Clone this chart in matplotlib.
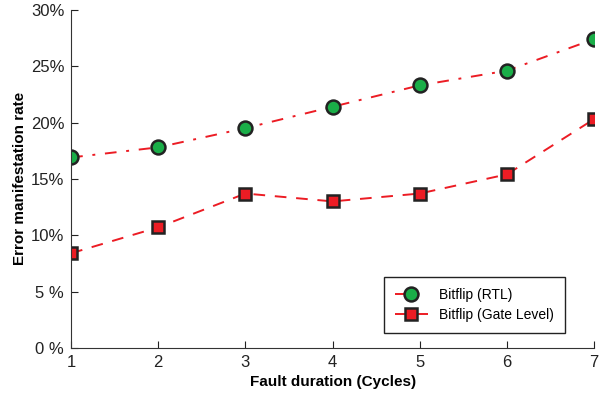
import matplotlib.pyplot as plt

# Fault duration in cycles
cycles = [1, 2, 3, 4, 5, 6, 7]

# Error manifestation rate (%)
rtl_rate = [16.9, 17.8, 19.5, 21.4, 23.3, 24.6, 27.4]
gate_rate = [8.4, 10.7, 13.7, 13.0, 13.7, 15.4, 20.3]

y_ticks = [0, 5, 10, 15, 20, 25, 30]
y_tick_labels = ['0 %', '5 %', '10%', '15%', '20%', '25%', '30%']

plt.rcParams['font.family'] = ['Liberation Sans', 'DejaVu Sans']

fig = plt.figure(figsize=(6.08, 3.94), dpi=100)
ax = fig.add_axes([0.117, 0.117, 0.86, 0.858])

line_red = '#ec1c24'

ax.plot(cycles, rtl_rate, color=line_red, linestyle=(0, (6, 5, 1.5, 5)), linewidth=1.4,
        marker='o', markersize=10, markerfacecolor='#1aae48', markeredgecolor='#222222',
        markeredgewidth=1.8, label='Bitflip (RTL)')
ax.plot(cycles, gate_rate, color=line_red, linestyle=(0, (6, 5)), linewidth=1.4,
        marker='s', markersize=9, markerfacecolor='#ec1c24', markeredgecolor='#222222',
        markeredgewidth=1.8, label='Bitflip (Gate Level)')

ax.set_xlim(1, 7)
ax.set_ylim(0, 30)
ax.set_xticks(cycles)
ax.set_yticks(y_ticks)
ax.set_yticklabels(y_tick_labels)

ax.spines['top'].set_visible(False)
ax.spines['right'].set_visible(False)
ax.spines['left'].set_color('#333333')
ax.spines['bottom'].set_color('#333333')
ax.tick_params(direction='in', length=5, labelsize=12, colors='#222222', pad=5)

ax.set_xlabel('Fault duration (Cycles)', fontsize=11, fontweight='bold', labelpad=4)
ax.set_ylabel('Error manifestation rate', fontsize=11, fontweight='bold', labelpad=3)

leg = ax.legend(loc='lower right', bbox_to_anchor=(0.945, 0.044), borderaxespad=0,
                fontsize=10, fancybox=False, edgecolor='#222222', framealpha=1,
                handlelength=2.4, borderpad=0.8, labelspacing=0.45)
leg.get_frame().set_linewidth(1.0)

fig.savefig('out.png', dpi=100)
